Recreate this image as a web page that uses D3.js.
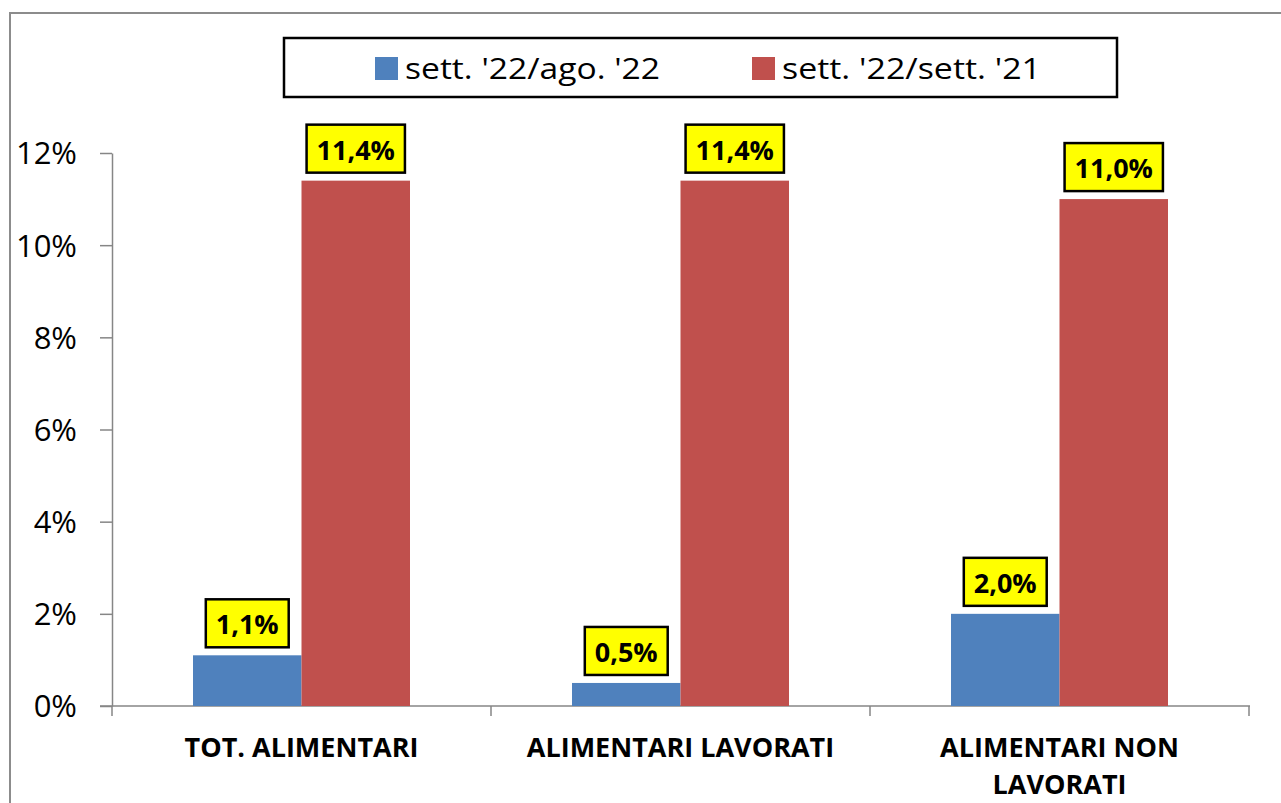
<!DOCTYPE html>
<html><head><meta charset="utf-8">
<script src="https://cdn.jsdelivr.net/npm/d3@7"></script>
<style>body{margin:0;background:#fff;}svg{display:block;font-family:"Open Sans",Lato,sans-serif;}</style>
</head><body>
<svg id="c" width="1281" height="803"></svg>
<script>
const categories = [["TOT. ALIMENTARI"], ["ALIMENTARI LAVORATI"], ["ALIMENTARI NON", "LAVORATI"]];
const seriesNames = ["sett. '22/ago. '22", "sett. '22/sett. '21"];
const seriesMonth = [1.1, 0.5, 2.0];
const seriesYear = [11.4, 11.4, 11.0];
const yTicks = [0, 2, 4, 6, 8, 10, 12];
const colors = ["#4F81BD", "#C0504D"];

const svg = d3.select("#c");
// outer chart border
svg.append("path").attr("d", "M10,803 V13 H1281").attr("fill", "none").attr("stroke", "#8c8c8c").attr("stroke-width", 2);

const x0 = d3.scaleBand().domain(d3.range(categories.length)).range([112, 1249]);
const x1 = d3.scaleBand().domain([0, 1]).range([0, 217]);
const y = d3.scaleLinear().domain([0, 12]).range([706, 153]);

// y axis
const ya = svg.append("g").attr("transform", "translate(112,0)").call(d3.axisLeft(y).tickValues(yTicks).tickSize(12).tickSizeOuter(0).tickFormat(d => d + "%"));
ya.select(".domain").attr("stroke", "#868686").attr("stroke-width", 1.5);
ya.selectAll(".tick line").attr("stroke", "#868686").attr("stroke-width", 1.5);
ya.selectAll(".tick text").attr("x", -35).attr("font-size", 31).attr("fill", "#000").attr("font-family", "Open Sans").attr("dy", "0.35em");

// x axis
svg.append("line").attr("x1", 100).attr("x2", 1250).attr("y1", y(0)).attr("y2", y(0)).attr("stroke", "#868686").attr("stroke-width", 1.5);
const bounds = categories.map((c, i) => x0(i)).concat([x0.range()[1]]);
svg.selectAll(".xt").data(bounds).join("line").attr("x1", d => d).attr("x2", d => d).attr("y1", y(0)).attr("y2", y(0) + 10).attr("stroke", "#868686").attr("stroke-width", 1.5);

const data = categories.map((c, i) => ({ i, vals: [seriesMonth[i], seriesYear[i]] }));
const g = svg.selectAll(".grp").data(data).join("g").attr("transform", d => `translate(${x0(d.i) + (x0.bandwidth() - 217) / 2},0)`);
g.selectAll("rect").data(d => d.vals).join("rect")
  .attr("x", (d, j) => x1(j)).attr("width", x1.bandwidth())
  .attr("y", d => y(d)).attr("height", d => y(0) - y(d)).attr("fill", (d, j) => colors[j]);

// data labels
const fmt = v => v.toFixed(1).replace(".", ",") + "%";
g.each(function (d) {
  const gg = d3.select(this);
  d.vals.forEach((v, j) => {
    const cx = x1(j) + x1.bandwidth() / 2;
    const bottom = y(v) - 8;
    const box = gg.append("rect");
    const txt = gg.append("text").attr("x", cx).attr("y", bottom - 13).attr("text-anchor", "middle")
      .attr("font-size", 27).attr("font-weight", "bold").attr("fill", "#000").text(fmt(v));
    const w = txt.node().getComputedTextLength() + 20;
    box.attr("x", cx - w / 2).attr("y", bottom - 48).attr("width", w).attr("height", 48)
      .attr("fill", "#FFFF00").attr("stroke", "#000").attr("stroke-width", 2.5);
  });
});

// category labels
svg.selectAll(".cl").data(categories).join("text")
  .attr("x", (d, i) => x0(i) + x0.bandwidth() / 2).attr("y", 757).attr("text-anchor", "middle")
  .attr("font-size", 27).attr("font-weight", "bold").attr("fill", "#000")
  .each(function (d) {
    d3.select(this).selectAll("tspan").data(d).join("tspan")
      .attr("x", d3.select(this).attr("x")).attr("dy", (t, k) => k === 0 ? 0 : 37).text(t => t);
  });

// legend
svg.append("rect").attr("x", 284).attr("y", 38).attr("width", 833).attr("height", 59).attr("fill", "#fff").attr("stroke", "#000").attr("stroke-width", 2.5);
const legX = [375, 752];
const legW = [255, 259];
seriesNames.forEach((n, j) => {
  svg.append("rect").attr("x", legX[j]).attr("y", 57).attr("width", 23).attr("height", 23).attr("fill", colors[j]);
  svg.append("text").attr("x", legX[j] + 30).attr("y", 79).attr("font-size", 30).attr("fill", "#000")
    .attr("textLength", legW[j]).attr("lengthAdjust", "spacingAndGlyphs").text(n);
});
</script>
</body></html>
